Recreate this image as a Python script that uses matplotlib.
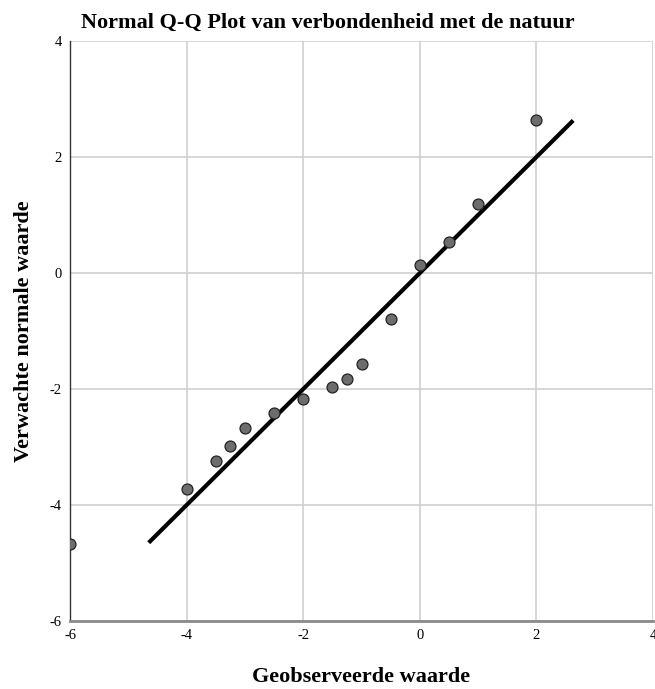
import matplotlib.pyplot as plt
import numpy as np

# Geobserveerde waarden en verwachte normale waarden
observed = [-6.0, -4.0, -3.5, -3.25, -3.0, -2.5, -2.0, -1.5, -1.25, -1.0, -0.5, 0.0, 0.5, 1.0, 2.0]
expected = [-4.67, -3.72, -3.24, -2.99, -2.68, -2.41, -2.18, -1.96, -1.83, -1.57, -0.79, 0.13, 0.54, 1.19, 2.63]

# Referentielijn
line_x = [-4.65, 2.63]
line_y = [-4.65, 2.63]

ticks = [-6, -4, -2, 0, 2, 4]

plt.rcParams['font.family'] = ['Liberation Serif', 'DejaVu Serif']
plt.rcParams['axes.unicode_minus'] = False

fig = plt.figure(figsize=(6.55, 6.89), dpi=100)
ax = fig.add_axes([0.1069, 0.0987, 0.8901, 0.8418])

ax.grid(True, color="#cfcfcf", linewidth=1.2)
ax.set_axisbelow(True)

ax.plot(line_x, line_y, color="black", linewidth=3, solid_capstyle="butt", zorder=2)
ax.scatter(observed, expected, s=62, color="#6d6d6d", edgecolor="#222222", linewidth=0.9, zorder=3)

ax.set_xlim(-6, 4)
ax.set_ylim(-6, 4)
ax.set_xticks(ticks)
ax.set_yticks(ticks)
ax.tick_params(length=0, labelsize=10.5, pad=6)

for side in ["top", "right"]:
    ax.spines[side].set_visible(False)
ax.spines["left"].set_color("#333333")
ax.spines["left"].set_linewidth(1.0)
ax.spines["bottom"].set_color("#8a8a8a")
ax.spines["bottom"].set_linewidth(2.0)

fig.text(0.5, 0.967, "Normal Q-Q Plot van verbondenheid met de natuur",
         ha="center", va="center", fontsize=16, fontweight="bold")
fig.text(0.552, 0.018, "Geobserveerde waarde", ha="center", va="center",
         fontsize=16, fontweight="bold")
fig.text(0.036, 0.52, "Verwachte normale waarde", ha="center", va="center",
         rotation=90, fontsize=16, fontweight="bold")

plt.savefig("out.png")
plt.close()
